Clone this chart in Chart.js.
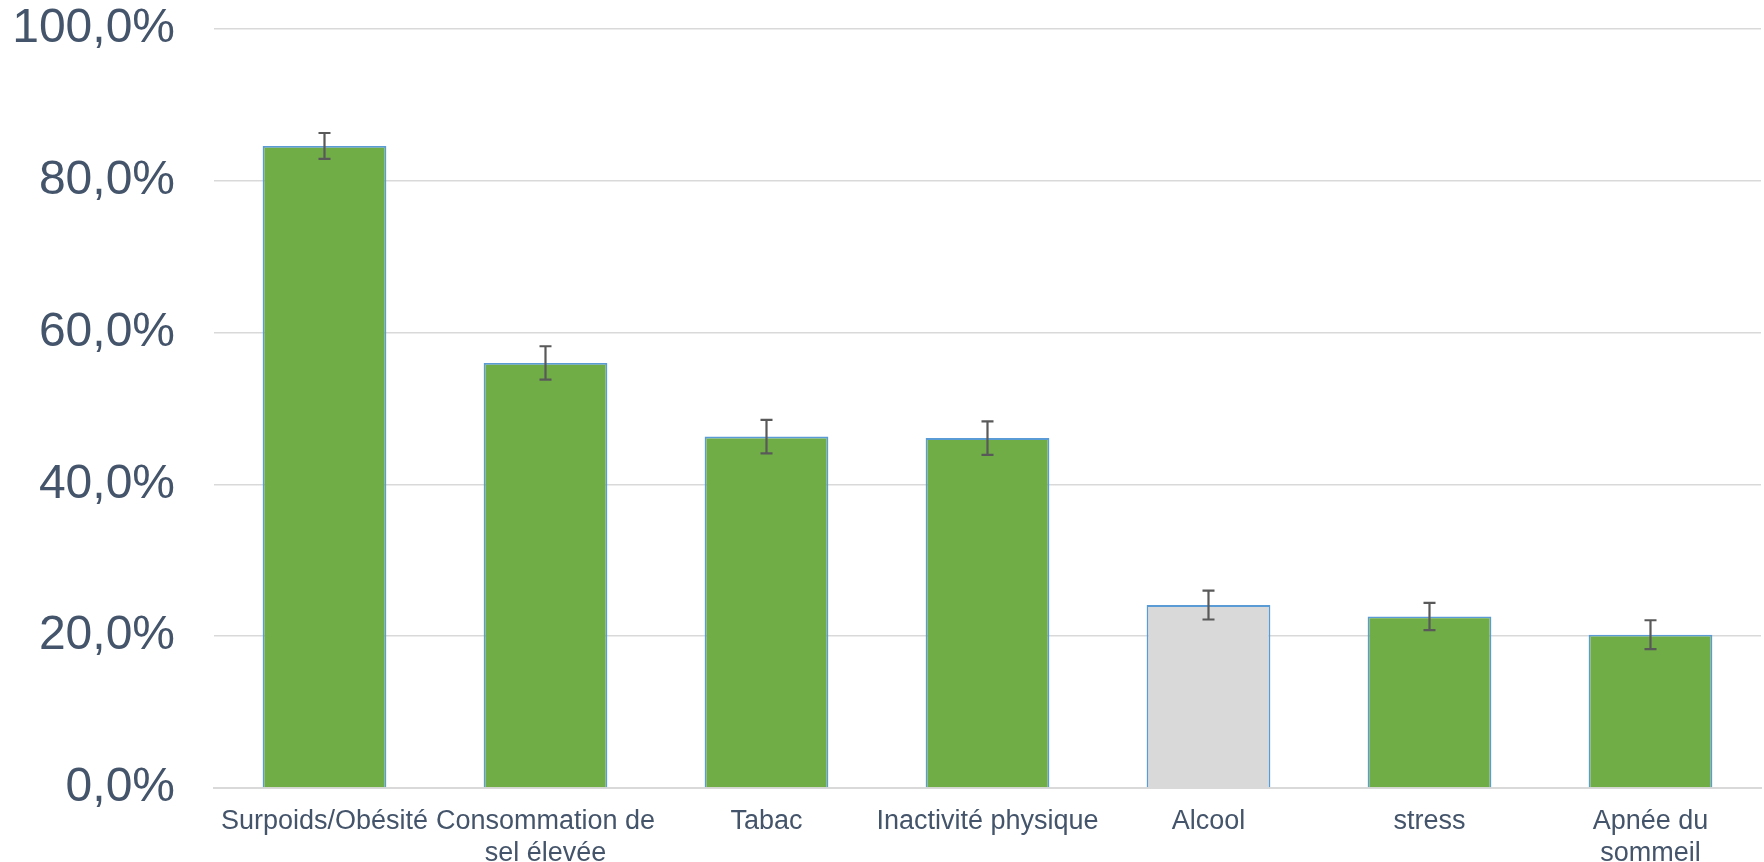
<!DOCTYPE html>
<html>
<head>
<meta charset="utf-8">
<script src="https://cdn.jsdelivr.net/npm/chart.js@4/dist/chart.umd.min.js"></script>
<style>
  html, body { margin: 0; padding: 0; background: #fff; }
  #wrap { width: 1764px; height: 862px; }
</style>
</head>
<body>
<div id="wrap"><canvas id="riskChart"></canvas></div>
<script>
// ========== DONNÉES ==========
const categories = [
  "Surpoids/Obésité",
  ["Consommation de", "sel élevée"],
  "Tabac",
  "Inactivité physique",
  "Alcool",
  "stress",
  ["Apnée du", "sommeil"]
];
const values = [84.6, 56.0, 46.3, 46.1, 24.1, 22.6, 20.2];
const errors = [1.7, 2.2, 2.2, 2.2, 1.9, 1.8, 1.9];
const barColors = ["#70AD47", "#70AD47", "#70AD47", "#70AD47", "#D9D9D9", "#70AD47", "#70AD47"];
const yTicks = [0, 20, 40, 60, 80, 100];

// ========== BARRES D'ERREUR ==========
const errorBars = {
  id: "errorBars",
  afterDatasetsDraw(chart) {
    const ctx = chart.ctx;
    const meta = chart.getDatasetMeta(0);
    const y = chart.scales.y;
    ctx.save();
    ctx.strokeStyle = "#595959";
    ctx.lineWidth = 2.2;
    meta.data.forEach((bar, i) => {
      const top = y.getPixelForValue(values[i] + errors[i]);
      const bot = y.getPixelForValue(values[i] - errors[i]);
      ctx.beginPath();
      ctx.moveTo(bar.x, top);
      ctx.lineTo(bar.x, bot);
      ctx.moveTo(bar.x - 6, top);
      ctx.lineTo(bar.x + 6, top);
      ctx.moveTo(bar.x - 6, bot);
      ctx.lineTo(bar.x + 6, bot);
      ctx.stroke();
    });
    ctx.restore();
  }
};

const ctx = document.getElementById("riskChart").getContext("2d");
new Chart(ctx, {
  type: "bar",
  data: {
    labels: categories,
    datasets: [{
      data: values,
      backgroundColor: barColors,
      borderColor: "#5B9BD5",
      borderWidth: 1.8,
      categoryPercentage: 1,
      barPercentage: 0.56
    }]
  },
  options: {
    responsive: true,
    maintainAspectRatio: false,
    animation: false,
    layout: { padding: { top: 29, right: 3, bottom: 0, left: 0 } },
    plugins: {
      legend: { display: false },
      tooltip: { enabled: false }
    },
    scales: {
      x: {
        grid: { display: false, drawTicks: false },
        border: { display: true, color: "#D9D9D9", width: 2 },
        ticks: {
          color: "#44546A",
          font: { family: "'Liberation Sans', Arial, sans-serif", size: 27 },
          padding: 17,
          maxRotation: 0,
          autoSkip: false
        },
        afterFit: s => { s.height = 74; }
      },
      y: {
        min: 0,
        max: 100,
        afterBuildTicks: s => { s.ticks = yTicks.map(v => ({ value: v })); },
        grid: { color: "#D9D9D9", lineWidth: 1.5, drawTicks: false },
        border: { display: false },
        ticks: {
          color: "#44546A",
          font: { family: "'Liberation Sans', Arial, sans-serif", size: 48 },
          padding: 39,
          callback: v => v.toFixed(1).replace(".", ",") + "%"
        },
        afterFit: s => {
          s.width = 214;
          s.paddingTop = 0;
          s.paddingBottom = 0;
        }
      }
    }
  },
  plugins: [errorBars]
});
</script>
</body>
</html>
